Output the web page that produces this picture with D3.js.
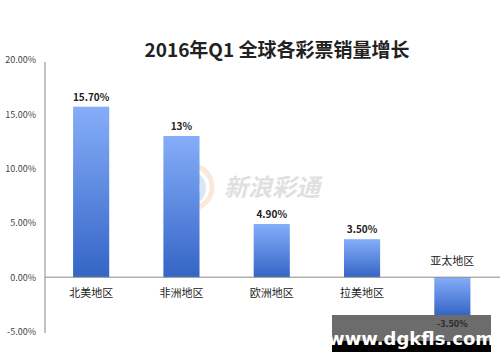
<!DOCTYPE html>
<html><head><meta charset="utf-8">
<script src="https://cdn.jsdelivr.net/npm/d3@7/dist/d3.min.js"></script>
<style>body{margin:0;background:#fff;}svg{display:block;}</style>
</head><body>
<svg id="c" width="500" height="362"></svg>
<script>
const title = "2016年Q1 全球各彩票销量增长";
const categories = ["北美地区","非洲地区","欧洲地区","拉美地区","亚太地区"];
const values = [15.7, 13, 4.9, 3.5, -3.5];
const valueLabels = ["15.70%","13%","4.90%","3.50%","-3.50%"];
const tickValues = [-5, 0, 5, 10, 15, 20];
const tickLabels = ["-5.00%","0.00%","5.00%","10.00%","15.00%","20.00%"];

const svg = d3.select("#c");
const font = "'Noto Sans CJK SC','Noto Sans',sans-serif";

const y = d3.scaleLinear().domain([-5, 20]).range([331.5, 60]);
const x = d3.scaleBand().domain(categories).range([46, 497.5]).paddingInner(0.6).paddingOuter(0.3);

const defs = svg.append("defs");
const g = defs.append("linearGradient").attr("id","bg").attr("x1",0).attr("y1",0).attr("x2",0).attr("y2",1);
g.append("stop").attr("offset","0%").attr("stop-color","#86adf9");
g.append("stop").attr("offset","100%").attr("stop-color","#3465c6");

// title
svg.append("text").attr("x",277).attr("y",57).attr("text-anchor","middle")
  .attr("font-family",font).attr("font-weight","bold").attr("font-size",19).attr("fill","#222").text(title);

// faint watermark logo
const wm = svg.append("g").attr("opacity",0.4);
wm.append("circle").attr("cx",190).attr("cy",187).attr("r",22).attr("fill","none").attr("stroke","#f5c9a0").attr("stroke-width",5);
wm.append("circle").attr("cx",188).attr("cy",188).attr("r",15).attr("fill","none").attr("stroke","#9fc3ef").attr("stroke-width",6);
wm.append("circle").attr("cx",186).attr("cy",190).attr("r",6).attr("fill","#6b8fc7");
svg.append("text").attr("x",224).attr("y",196).attr("font-family",font).attr("font-weight","bold")
  .attr("font-style","italic").attr("font-size",24).attr("fill","#e0e0e0").text("新浪彩通");

// y axis
const yAxis = d3.axisLeft(y).tickValues(tickValues).tickSize(0).tickPadding(9)
  .tickFormat((d,i)=>tickLabels[i]);
const ya = svg.append("g").attr("transform","translate(45,0)").call(yAxis);
ya.select(".domain").attr("stroke","#888").attr("stroke-width",1).attr("d","M0,62V333");
ya.selectAll("text").attr("font-family",font).attr("font-size",9).attr("fill","#444");

// bars
svg.selectAll("rect.bar").data(values).enter().append("rect").attr("class","bar")
  .attr("x",(d,i)=>x(categories[i])).attr("width",x.bandwidth())
  .attr("y",d=>y(Math.max(0,d))).attr("height",d=>Math.abs(y(d)-y(0)))
  .attr("fill","url(#bg)");

// zero line
svg.append("line").attr("x1",45).attr("x2",500).attr("y1",y(0)).attr("y2",y(0)).attr("stroke","#888");

// category labels
svg.selectAll("text.cl").data(values).enter().append("text").attr("class","cl")
  .attr("x",(d,i)=>x(categories[i])+x.bandwidth()/2)
  .attr("y",d=> d>=0 ? y(0)+20 : y(0)-12)
  .attr("text-anchor","middle").attr("font-family",font)
  .attr("font-size",11).attr("fill","#222").text((d,i)=>categories[i]);

// site watermark box (sits over the chart)
svg.append("rect").attr("x",332).attr("y",315).attr("width",159).attr("height",26).attr("fill","#6c6c6c");
svg.append("rect").attr("x",332).attr("y",341).attr("width",159).attr("height",11).attr("fill","#000");

// value labels
svg.selectAll("text.vl").data(values).enter().append("text").attr("class","vl")
  .attr("x",(d,i)=>x(categories[i])+x.bandwidth()/2)
  .attr("y",d=> d>=0 ? y(d)-6 : y(d)+12)
  .attr("text-anchor","middle").attr("font-family",font).attr("font-weight","bold")
  .attr("font-size",d=> d>=0 ? 10 : 9).attr("fill",d=> d>=0 ? "#222" : "#2a2a2a").text((d,i)=>valueLabels[i]);

svg.append("text").attr("x",411).attr("y",345).attr("text-anchor","middle").attr("font-family","'DejaVu Sans',sans-serif")
  .attr("font-weight","bold").attr("font-size",18).attr("fill","#fff").text("www.dgkfls.com");
</script>
</body></html>
